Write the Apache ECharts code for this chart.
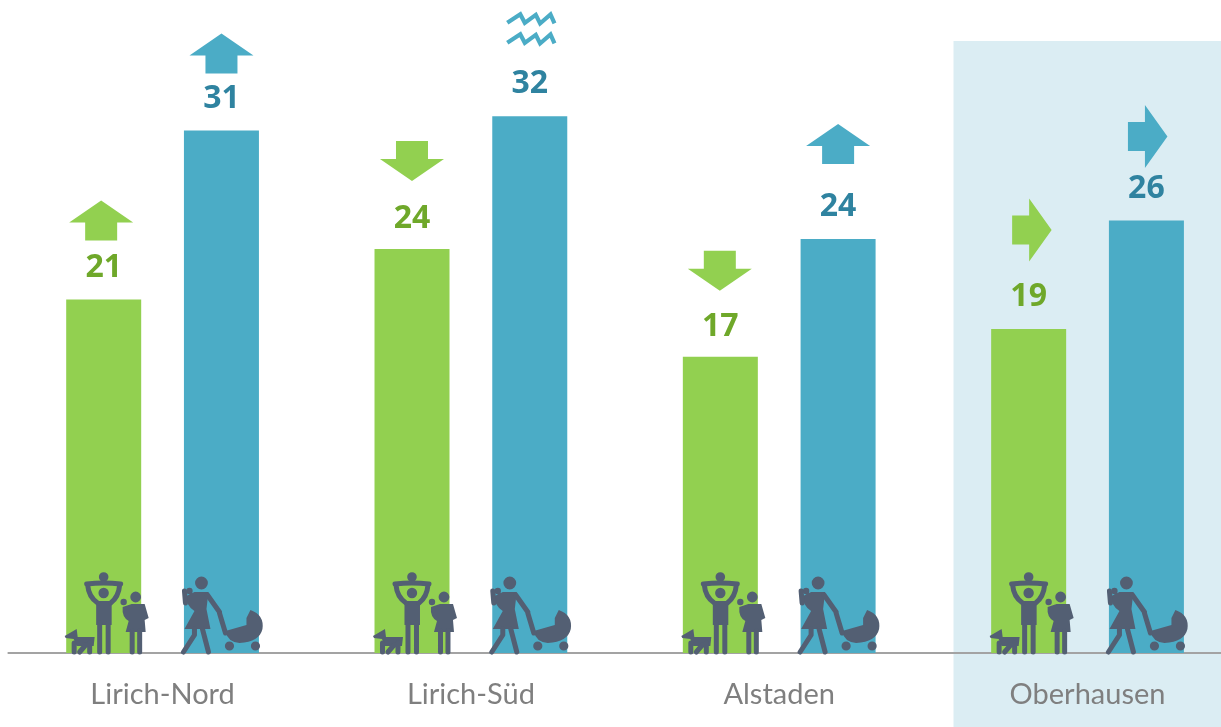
<!DOCTYPE html>
<html><head><meta charset="utf-8">
<style>html,body{margin:0;padding:0;background:#fff}#c{width:1221px;height:727px}</style>
<script src="https://cdn.jsdelivr.net/npm/echarts@6/dist/echarts.min.js"></script>
</head><body><div id="c"></div>
<script>
const categories = ['Lirich-Nord', 'Lirich-Süd', 'Alstaden', 'Oberhausen'];
const greenValues = [21.0, 24.0, 17.6, 19.25];
const blueValues = [31.05, 31.9, 24.6, 25.7];
const greenLabels = ['21', '24', '17', '19'];
const blueLabels = ['31', '32', '24', '26'];
const greenTrends = ['up', 'down', 'down', 'right'];
const blueTrends = ['up', 'wave', 'up', 'right'];

const GREEN = '#92D050', BLUE = '#4BACC6', INK = '#535F73';
const greenLift = [79, 88, 86, 99], blueLift = [77, 88, 95, 84];
const greenNudge = [-2.5, 0, -0.5, 2], blueNudge = [0, 0, 0, 0];
const greenLabelGap = [16, 14, 14, 16], blueLabelGap = [16, 16, 16, 16];
const BAR_W = 75, HALF_STEP = 58.9;

const ARROWS = {
  up: 'M0,-20 L32,2 L16,2 L16,20 L-16,20 L-16,2 L-32,2 Z',
  down: 'M0,20 L32,-2 L16,-2 L16,-20 L-16,-20 L-16,-2 L-32,-2 Z',
  right: 'M21,0 L-1.5,-31.5 L-1.5,-14.5 L-18.5,-14.5 L-18.5,14.5 L-1.5,14.5 L-1.5,31.5 Z'
};
const WAVE = 'M-22.5,-5.3 L-9.5,-13.8 L-5,-5.3 L6,-13.3 L10.3,-4.7 L20.7,-13.8 L24.7,-4.7 ' +
             'M-22.5,14.7 L-9.5,6.2 L-5,14.7 L6,6.7 L10.3,15.3 L20.7,6.2 L24.7,15.3';

const circle = (x, y, r) => `M${x - r},${y} A${r},${r} 0 1 1 ${x + r},${y} A${r},${r} 0 1 1 ${x - r},${y} Z `;

const FAMILY_FILL =
  circle(0, -76, 4.8) + circle(0, -60, 5.2) +
  'M-7.5,-52 L8,-52 L8,-28 L-7.5,-28 Z ' +
  circle(32, -56, 5.4) + circle(20, -51, 3.2) +
  'M19,-46 L28,-49 L41,-49 L45,-35 L41,-33 L42,-21 L22,-21 L25,-32 Q18,-36 19,-46 Z ' +
  'M-39,-17 L-27,-24 L-26,-16 L-9,-16 L-10,-7 L-16,-7 L-27,-7 L-30,-14 L-38,-15 Z';
const FAMILY_LINES =
  'M-16,-68 Q-15,-56 -6,-50 M16,-68 Q15,-56 7,-50 M-17,-69 Q0,-71 17,-69 ' +
  'M-4,-30 L-4,-1 M4.5,-30 L4.5,-1 M28.5,-22 L28.5,-1 M36,-22 L36,-1 ' +
  'M-29.5,-10 L-29.5,-1 M-14,-10 L-14,-1 M-18,-8 L-24,-1';

const MOTHER_FILL =
  circle(-20, -70, 6.4) + circle(-32, -62, 3.2) +
  'M-35,-57 L-27,-61 L-13,-61 L-15,-44 L-11,-24 L-37,-24 L-27,-42 Q-36,-48 -35,-57 Z ' +
  'M4,-22 L25,-28 L25,-35 L29,-43 Q43,-38 41,-24 Q38,-11 18,-10 Q6,-11 4,-22 Z ' +
  circle(8, -7, 4.6) + circle(34, -7, 4.6);
const MOTHER_LINES =
  'M-14,-58 L-2,-41 M-2,-40 L4,-20 M-37,-62 L-36,-50 ' +
  'M-27,-24 L-27,-18 L-38,-1 M-19,-24 L-13,-1';

function iconItem(params, api, sign, trends, lifts, nudges) {
  const i = api.value(0);
  const p = api.coord([i, api.value(1)]);
  const kind = trends[i];
  const x = p[0] + sign * HALF_STEP + nudges[i], y = p[1] - lifts[i];
  const fill = sign < 0 ? GREEN : BLUE;
  if (kind === 'wave') {
    return { type: 'path', x, y, shape: { pathData: WAVE },
      style: { fill: 'none', stroke: fill, lineWidth: 4.2, lineJoin: 'miter' } };
  }
  return { type: 'path', x, y, shape: { pathData: ARROWS[kind] }, style: { fill } };
}

function peopleItem(params, api, sign, fillD, lineD, w) {
  const p = api.coord([api.value(0), 0]);
  const x = p[0] + sign * HALF_STEP, y = p[1];
  return { type: 'group', x, y, children: [
    { type: 'path', shape: { pathData: fillD }, style: { fill: INK } },
    { type: 'path', shape: { pathData: lineD },
      style: { fill: 'none', stroke: INK, lineWidth: w, lineCap: 'round', lineJoin: 'round' } }
  ] };
}

const idx = (arr) => arr.map((v, i) => [i, v]);
const customBase = { type: 'custom', clip: false, silent: true, encode: { x: 0, y: 1 }, z: 5 };
const barData = (values, labels, gaps, color) => values.map((value, i) => ({
  value,
  label: {
    show: true, position: 'top', distance: gaps[i], formatter: labels[i],
    fontFamily: 'Open Sans', fontWeight: 'bold', fontSize: 32, color
  }
}));

const chart = echarts.init(document.getElementById('c'));
chart.setOption({
  animation: false,
  backgroundColor: '#fff',
  grid: { left: 8.4, width: 1233.3, top: 13.5, bottom: 74, containLabel: false, outerBoundsMode: 'none' },
  graphic: [{ type: 'rect', z: -1, silent: true, shape: { x: 953.5, y: 41, width: 268, height: 686 },
    style: { fill: '#DBEDF3' } }],
  xAxis: { type: 'category', data: categories,
    axisLine: { lineStyle: { color: '#A3A3A3', width: 2 } }, axisTick: { show: false },
    axisLabel: { fontFamily: 'Lato', fontSize: 29, color: '#7F7F7F', margin: 27 } },
  yAxis: { type: 'value', min: 0, max: 38, show: false, splitLine: { show: false } },
  series: [
    { type: 'bar', data: barData(greenValues, greenLabels, greenLabelGap, '#6FA82A'), barWidth: BAR_W, barGap: '57%',
      itemStyle: { color: GREEN } },
    { type: 'bar', data: barData(blueValues, blueLabels, blueLabelGap, '#2F83A0'), barWidth: BAR_W, barGap: '57%',
      itemStyle: { color: BLUE } },
    { ...customBase, data: idx(greenValues), renderItem: (p, a) => iconItem(p, a, -1, greenTrends, greenLift, greenNudge) },
    { ...customBase, data: idx(blueValues), renderItem: (p, a) => iconItem(p, a, 1, blueTrends, blueLift, blueNudge) },
    { ...customBase, data: idx(greenValues), renderItem: (p, a) => peopleItem(p, a, -1, FAMILY_FILL, FAMILY_LINES, 5) },
    { ...customBase, data: idx(blueValues), renderItem: (p, a) => peopleItem(p, a, 1, MOTHER_FILL, MOTHER_LINES, 5) }
  ]
});
</script></body></html>
